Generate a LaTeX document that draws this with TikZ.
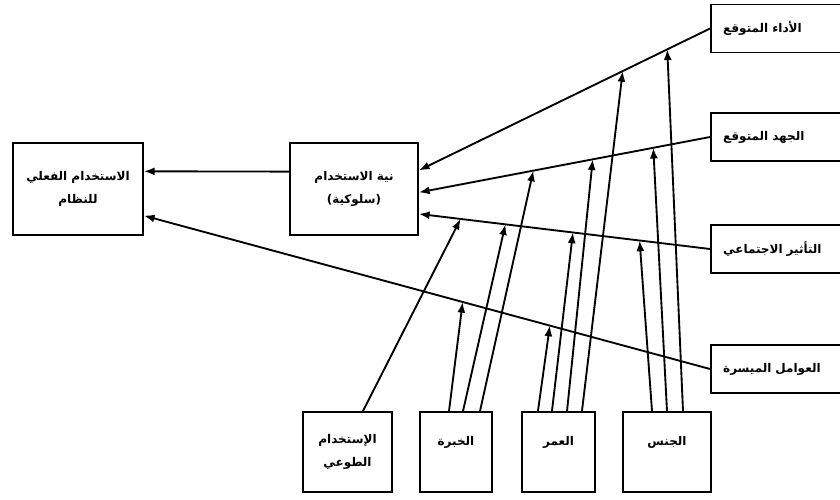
\documentclass[tikz,border=0pt]{standalone}
\usepackage{fontspec}
\newfontfamily\arabicfont[Script=Arabic]{DejaVu Sans}
\TeXXeTstate=1
\newcommand{\artxt}[1]{{\arabicfont\bfseries\beginR #1\endR}}
\usetikzlibrary{arrows.meta}

\begin{document}
\begin{tikzpicture}[x=0.75pt,y=0.75pt,yscale=-1,xscale=1,
    box/.style={draw, line width=1.4pt, align=center, font=\small},
    factor/.style={draw, line width=1.4pt, minimum width=101.25pt, minimum height=36pt, text width=83pt, inner xsep=9pt, align=left, font=\small},
    moder/.style={draw, line width=1.4pt, minimum height=60pt, align=center, font=\small},
    link/.style={line width=1.4pt, -{Latex[length=8pt,width=6pt]}}]
    \useasboundingbox (0,0) rectangle (840,500);
    
    %Shape: Rectangle
    \node [box, minimum width=97.5pt, minimum height=69pt] (use) at (78,189) {\artxt{الاستخدام الفعلي}\\[6pt]\artxt{للنظام}};
    %Shape: Rectangle
    \node [box, minimum width=96pt, minimum height=69pt] (bi) at (354,189) {\artxt{نية الاستخدام}\\[6pt]\artxt{(سلوكية)}};
    
    %Shape: Rectangle
    \node [factor] (pe) at (778.5,28.5) {\artxt{الأداء المتوقع}};
    \node [factor] (ee) at (778.5,137) {\artxt{الجهد المتوقع}};
    \node [factor] (si) at (778.5,249) {\artxt{التأثير الاجتماعي}};
    \node [factor] (fc) at (778.5,369) {\artxt{العوامل الميسرة}};
    
    %Shape: Rectangle
    \node [moder, minimum width=66.75pt] (vol) at (347.5,452) {\artxt{الإستخدام}\\[6pt]\artxt{الطوعي}};
    \node [moder, minimum width=54pt] (exp) at (456,452) {\artxt{الخبرة}\\[6pt]\mbox{}};
    \node [moder, minimum width=54.75pt] (age) at (558.5,452) {\artxt{العمر}\\[6pt]\mbox{}};
    \node [moder, minimum width=66pt] (gen) at (667,452) {\artxt{الجنس}\\[6pt]\mbox{}};
    
    %Straight Lines
    \draw [link] (bi.165) -- (use.15) ;
    \draw [link] (pe.west) -- (bi.16) coordinate[pos=0.147] (pe-g) coordinate[pos=0.30] (pe-a) ;
    \draw [link] (ee.west) -- (bi.-3) coordinate[pos=0.195] (ee-g) coordinate[pos=0.403] (ee-a) coordinate[pos=0.607] (ee-x) ;
    \draw [link] (si.west) -- (bi.-21) coordinate[pos=0.242] (si-g) coordinate[pos=0.471] (si-a) coordinate[pos=0.703] (si-x) coordinate[pos=0.857] (si-v) ;
    \draw [link] (fc.west) -- (use.-22) coordinate[pos=0.283] (fc-a) coordinate[pos=0.437] (fc-x) ;
    
    %Straight Lines
    \draw [link] ([xshift=11.6pt]vol.north) -- (si-v) ;
    \draw [link] ([xshift=-5.25pt]exp.north) -- (fc-x) ;
    \draw [link] ([xshift=5.25pt]exp.north) -- (si-x) ;
    \draw [link] ([xshift=18pt]exp.north) -- (ee-x) ;
    \draw [link] ([xshift=-15.4pt]age.north) -- (fc-a) ;
    \draw [link] ([xshift=-4.9pt]age.north) -- (si-a) ;
    \draw [link] ([xshift=6.4pt]age.north) -- (ee-a) ;
    \draw [link] ([xshift=17.6pt]age.north) -- (pe-a) ;
    \draw [link] ([xshift=-11.25pt]gen.north) -- (si-g) ;
    \draw [link] (gen.north) -- (ee-g) ;
    \draw [link] ([xshift=12pt]gen.north) -- (pe-g) ;
    
\end{tikzpicture}
\end{document}
